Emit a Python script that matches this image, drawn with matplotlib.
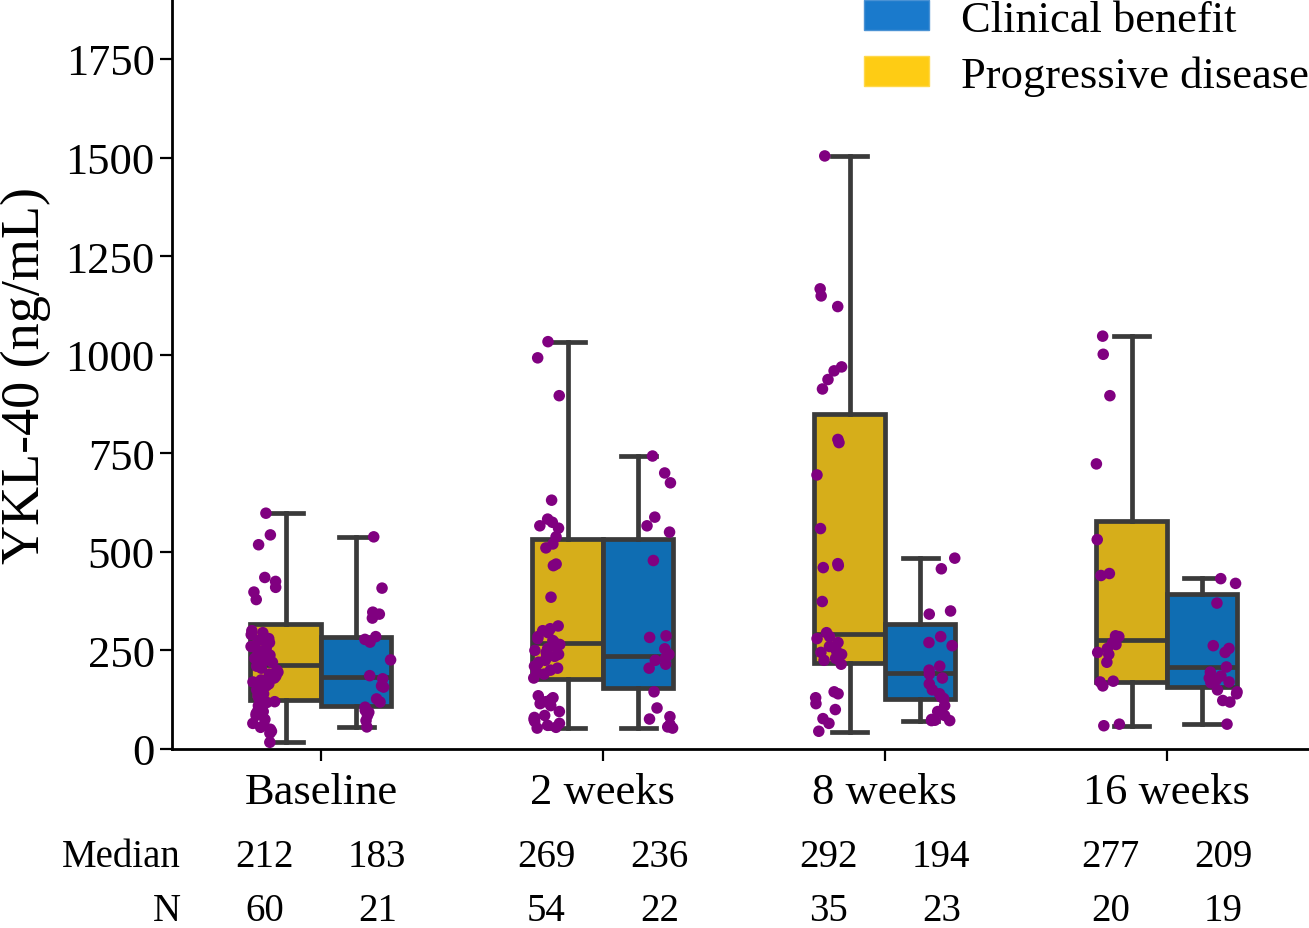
import numpy as np
import pandas as pd
import matplotlib
matplotlib.use("Agg")
import matplotlib.pyplot as plt
import matplotlib.patches as mpatches
import matplotlib.transforms as mtransforms
import seaborn as sns

timepoints = ["Baseline", "2 weeks", "8 weeks", "16 weeks"]
groups = ["Progressive disease", "Clinical benefit"]

# box stats
pd_q1 = [124, 178, 217, 171]
pd_med = [212, 269, 292, 277]
pd_q3 = [317, 533, 850, 579]
pd_lo = [17, 53, 44, 59]
pd_hi = [598, 1033, 1504, 1047]
cb_q1 = [109, 154, 127, 158]
cb_med = [183, 236, 194, 209]
cb_q3 = [285, 533, 317, 393]
cb_lo = [55, 53, 72, 63]
cb_hi = [538, 744, 484, 433]
n_pd = [60, 54, 35, 20]
n_cb = [21, 22, 23, 19]

# individual patients (ng/mL)
pd_baseline = [598, 543, 518, 435, 425, 410, 398, 379,
               300, 295, 290, 285, 280, 275, 270, 265, 260, 255, 250,
               245, 240, 238, 235, 230, 225, 220, 215, 210, 205, 200,
               195, 190, 185, 180, 175, 170, 165, 160, 155, 150, 145, 140, 135, 130, 125,
               120, 118, 110, 100, 95, 90, 85, 75, 65, 60, 55, 50, 45, 40, 17]
cb_baseline = [538, 408, 347, 342, 332, 285, 278, 271, 226, 186, 178,
               160, 157, 127, 119, 106, 98, 93, 85, 72, 56]
pd_2wk = [1033, 992, 896, 631, 583, 575, 566, 560, 538, 520, 510, 469, 465, 385,
          312, 305, 300, 295, 285, 280,
          275, 270, 265, 260, 255, 250, 245, 240, 235, 230, 225, 220, 215, 210, 205, 200,
          195, 190, 180, 135, 130, 125, 120, 115, 110,
          95, 85, 80, 75, 70, 65, 60, 55, 53]
cb_2wk = [743, 700, 675, 588, 566, 550, 478, 287, 283, 254, 240, 231, 225, 215, 205,
          145, 104, 82, 76, 62, 56, 53]
pd_8wk = [1504, 1167, 1149, 1122, 969, 959, 937, 913, 785, 777, 695, 559,
          470, 465, 460, 374, 295, 285, 280, 270, 260, 250, 245, 240, 230, 225, 215,
          145, 140, 130, 115, 100, 77, 65, 45]
cb_8wk = [484, 457, 350, 342, 285, 270, 262, 210, 200, 190, 180, 165,
          150, 140, 132, 128, 110, 95, 85, 75, 73, 72, 72]
pd_16wk = [1047, 1001, 896, 723, 531, 445, 440, 287, 285, 270, 265, 255, 245,
           240, 220, 172, 170, 160, 63, 59]
cb_16wk = [432, 420, 370, 262, 255, 245, 208, 195, 185, 180, 175, 170, 168,
           150, 145, 140, 123, 119, 63]

pd_points = [pd_baseline, pd_2wk, pd_8wk, pd_16wk]
cb_points = [cb_baseline, cb_2wk, cb_8wk, cb_16wk]

rows = []
for t, vals in zip(timepoints, pd_points):
    rows += [(t, groups[0], v) for v in vals]
for t, vals in zip(timepoints, cb_points):
    rows += [(t, groups[1], v) for v in vals]
df = pd.DataFrame(rows, columns=["time", "group", "value"])

plt.rcParams['font.family'] = ['Liberation Serif', 'DejaVu Serif']

line_c = '#3a3a3a'
box_yellow = '#D6AE1A'
box_blue = '#0F6DB2'
leg_yellow = '#FECC14'
leg_blue = '#1A7ACC'

fig = plt.figure(figsize=(13.09, 9.29), dpi=100)
ax = fig.add_axes([172 / 1309, 179 / 929, 1 - 172 / 1309, 750 / 929])

def make_stats(q1, med, q3, lo, hi):
    return [dict(q1=a, med=b, q3=c, whislo=d, whishi=e, fliers=[])
            for a, b, c, d, e in zip(q1, med, q3, lo, hi)]

xs = np.arange(len(timepoints))
lw = 3.4
common = dict(widths=0.25, patch_artist=True, showfliers=False, manage_ticks=False,
              whiskerprops=dict(color=line_c, linewidth=lw),
              capprops=dict(color=line_c, linewidth=lw),
              medianprops=dict(color=line_c, linewidth=lw), zorder=2)
ax.bxp(make_stats(pd_q1, pd_med, pd_q3, pd_lo, pd_hi), positions=xs - 0.125,
       boxprops=dict(facecolor=box_yellow, edgecolor=line_c, linewidth=lw), **common)
ax.bxp(make_stats(cb_q1, cb_med, cb_q3, cb_lo, cb_hi), positions=xs + 0.125,
       boxprops=dict(facecolor=box_blue, edgecolor=line_c, linewidth=lw), **common)

np.random.seed(3)
sns.stripplot(data=df, x="time", y="value", hue="group", order=timepoints,
              hue_order=groups, dodge=True, jitter=True,
              palette=['purple', 'purple'], size=8.3, linewidth=0,
              ax=ax, legend=False, zorder=3)

ax.set_xlim(-0.528, 3.504)
ax.set_ylim(0, 1902)
ax.set_yticks([0, 250, 500, 750, 1000, 1250, 1500, 1750])
ax.set_xticks(xs)
ax.set_xticklabels(timepoints)
ax.set_xlabel("")
ax.set_ylabel("YKL-40 (ng/mL)", fontsize=39)
ax.yaxis.set_label_coords(-0.106, 0.5)
ax.tick_params(axis='both', labelsize=32, length=8.5, width=1.6, color='black')
ax.tick_params(axis='x', pad=8)
ax.tick_params(axis='y', pad=4)
ax.spines['top'].set_visible(False)
ax.spines['right'].set_visible(False)
ax.spines['left'].set_linewidth(2)
ax.spines['bottom'].set_linewidth(2)

# median and N rows under the axis
trans = mtransforms.blended_transform_factory(ax.transData, fig.transFigure)
y_med = 1 - 858 / 929
y_n = 1 - 912 / 929
fig.text(181 / 1309, y_med, "Median", fontsize=28, ha='right', va='center')
fig.text(181 / 1309, y_n, "N", fontsize=28, ha='right', va='center')
for i in range(len(timepoints)):
    ax.text(i - 0.2, y_med, str(pd_med[i]), transform=trans, fontsize=28, ha='center', va='center')
    ax.text(i + 0.2, y_med, str(cb_med[i]), transform=trans, fontsize=28, ha='center', va='center')
    ax.text(i - 0.2, y_n, str(n_pd[i]), transform=trans, fontsize=28, ha='center', va='center')
    ax.text(i + 0.2, y_n, str(n_cb[i]), transform=trans, fontsize=28, ha='center', va='center')

handles = [mpatches.Patch(facecolor=leg_blue, edgecolor='#4A92D4', label='Clinical benefit'),
           mpatches.Patch(facecolor=leg_yellow, edgecolor='#FFD84A', label='Progressive disease')]
fig.legend(handles=handles, loc='upper left', bbox_to_anchor=(864 / 1309, 0.999),
           frameon=False, fontsize=32, handlelength=1.47, handleheight=0.65,
           handletextpad=0.72, labelspacing=0.34, borderpad=0, borderaxespad=0)

fig.savefig("out.png", dpi=100)
